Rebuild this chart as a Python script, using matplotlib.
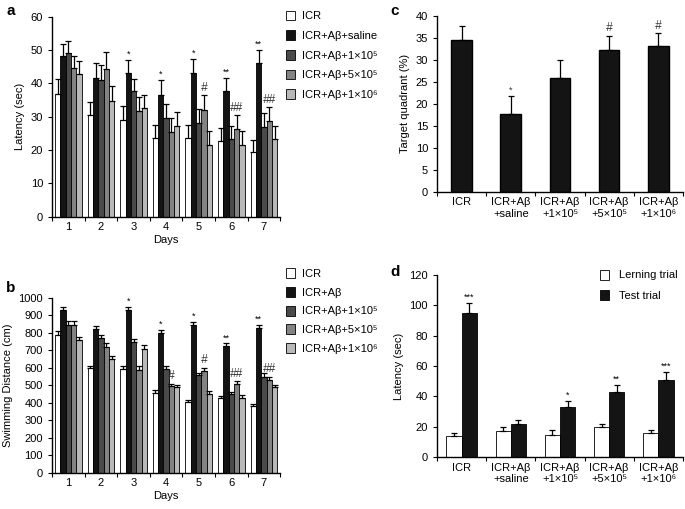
import numpy as np
import matplotlib
matplotlib.use("Agg")
import matplotlib.pyplot as plt
from matplotlib.patches import Patch

plt.rcParams['font.family'] = ['Liberation Sans', 'DejaVu Sans']
plt.rcParams['axes.linewidth'] = 1.0

# ---- data ----
days = [1, 2, 3, 4, 5, 6, 7]
groups_a = ['ICR', 'ICR+Aβ+saline', 'ICR+Aβ+1×10⁵', 'ICR+Aβ+5×10⁵', 'ICR+Aβ+1×10⁶']
groups_b = ['ICR', 'ICR+Aβ', 'ICR+Aβ+1×10⁵', 'ICR+Aβ+5×10⁵', 'ICR+Aβ+1×10⁶']
colors = ['white', '#141414', '#4a4a4a', '#838383', '#b8b8b8']

# panel a: latency (sec), one row per group, one value per day
lat_mean = [
    [36.8, 30.6, 29.1, 23.5, 23.6, 22.7, 19.4],
    [48.1, 41.6, 43.1, 36.6, 43.2, 37.6, 46.1],
    [49.1, 41.1, 37.6, 29.6, 28.1, 23.3, 26.9],
    [44.6, 44.3, 31.6, 25.3, 32.1, 26.4, 28.7],
    [42.9, 34.8, 32.6, 27.3, 21.6, 21.6, 23.4],
]
lat_err = [
    [4.5, 3.8, 4.0, 4.0, 3.9, 3.9, 3.7],
    [3.7, 4.5, 3.9, 4.4, 4.2, 4.1, 3.9],
    [3.7, 4.3, 3.8, 4.1, 4.2, 4.0, 4.1],
    [3.7, 5.0, 4.3, 4.3, 4.4, 4.1, 4.2],
    [3.9, 4.5, 4.0, 4.1, 4.2, 4.2, 3.9],
]
lat_star = {2: '*', 3: '*', 4: '*', 5: '**', 6: '**'}   # day index -> mark over saline
lat_hash = {4: '#', 5: '##', 6: '##'}                   # day index -> mark over 5x10^5

# panel b: swimming distance (cm)
dist_mean = [
    [790, 598, 595, 457, 403, 425, 382],
    [928, 822, 928, 797, 843, 722, 828],
    [845, 770, 745, 595, 557, 450, 550],
    [845, 720, 590, 497, 582, 505, 532],
    [760, 650, 710, 490, 452, 428, 490],
]
dist_err = [
    [20, 15, 15, 15, 12, 12, 12],
    [20, 15, 18, 18, 18, 18, 15],
    [25, 20, 20, 18, 12, 10, 22],
    [20, 20, 18, 12, 18, 18, 18],
    [15, 18, 22, 12, 15, 15, 12],
]
dist_star = {2: '*', 3: '*', 4: '*', 5: '**', 6: '**'}
dist_hash = {3: '#', 4: '#', 5: '##', 6: '##'}

# panel c: target quadrant (%)
cats = ['ICR', 'ICR+Aβ\n+saline', 'ICR+Aβ\n+1×10⁵', 'ICR+Aβ\n+5×10⁵', 'ICR+Aβ\n+1×10⁶']
quad_mean = [34.6, 17.7, 25.9, 32.2, 33.1]
quad_err = [3.0, 4.0, 4.0, 3.3, 2.9]
quad_mark = ['', '*', '', '#', '#']

# panel d: passive avoidance latency (sec)
learn_mean = [14.2, 17.3, 14.8, 19.5, 15.8]
learn_err = [1.8, 2.4, 2.8, 2.5, 2.0]
test_mean = [95.2, 21.6, 33.0, 42.7, 50.7]
test_err = [6.0, 3.0, 3.7, 5.0, 5.2]
test_mark = ['***', '', '*', '**', '***']

fig = plt.figure(figsize=(6.85, 5.09), dpi=100)
FS = 8


def style_axes(ax):
    for s in ['top', 'right']:
        ax.spines[s].set_visible(False)
    ax.tick_params(axis='y', direction='out', length=3, labelsize=FS)
    ax.tick_params(axis='x', which='major', direction='out', length=3, labelbottom=False)
    ax.tick_params(axis='x', which='minor', length=0, labelsize=FS, pad=4)


def grouped(ax, means, errs, stars, hashes, ymax, ystep, ylabel, off):
    w = 0.164
    x = np.arange(1, 8)
    for i, (m, e) in enumerate(zip(means, errs)):
        xs = x + (i - 2) * w
        ax.bar(xs, m, w, color=colors[i], edgecolor='black', linewidth=0.6, zorder=2)
        ax.errorbar(xs, m, yerr=[np.zeros(7), e], fmt='none', ecolor='black',
                    elinewidth=0.9, capsize=2.2, capthick=0.9, zorder=3)
    for d, s in stars.items():
        ax.text(x[d] - w, means[1][d] + errs[1][d] + off * 0.3, s, ha='center',
                va='bottom', fontsize=6.5)
    for d, s in hashes.items():
        ax.text(x[d] + w, means[3][d] + errs[3][d] + off * 0.4, s, ha='center',
                va='bottom', fontsize=8.5, style='italic', color='#333333')
    ax.set_xlim(0.5, 7.5)
    ax.set_ylim(0, ymax)
    ax.set_yticks(np.arange(0, ymax + 1, ystep))
    ax.set_xticks(np.arange(0.5, 8, 1))
    ax.set_xticks(x, minor=True)
    ax.set_xticklabels([str(d) for d in days], minor=True)
    ax.set_xlabel('Days', fontsize=FS, labelpad=2)
    ax.set_ylabel(ylabel, fontsize=FS, labelpad=4)
    style_axes(ax)


def legend_handles():
    return [Patch(facecolor=c, edgecolor='black', linewidth=0.6) for c in colors]


# ---- panel a ----
ax_a = fig.add_axes([0.076, 0.574, 0.333, 0.393])
grouped(ax_a, lat_mean, lat_err, lat_star, lat_hash, 60, 10, 'Latency (sec)', 1.0)
ax_a.legend(handles=legend_handles(), labels=groups_a, loc='upper left',
            bbox_to_anchor=(0.403, 0.999), bbox_transform=fig.transFigure,
            frameon=False, fontsize=FS, handlelength=0.8, handleheight=1.0,
            handletextpad=0.6, labelspacing=0.8)

# ---- panel b ----
ax_b = fig.add_axes([0.076, 0.071, 0.333, 0.344])
grouped(ax_b, dist_mean, dist_err, dist_star, dist_hash, 1000, 100, 'Swimming Distance (cm)', 20)
ax_b.legend(handles=legend_handles(), labels=groups_b, loc='upper left',
            bbox_to_anchor=(0.403, 0.493), bbox_transform=fig.transFigure,
            frameon=False, fontsize=FS, handlelength=0.8, handleheight=1.0,
            handletextpad=0.6, labelspacing=0.72)

# ---- panel c ----
ax_c = fig.add_axes([0.638, 0.623, 0.359, 0.346])
xc = np.arange(5)
ax_c.bar(xc, quad_mean, 0.42, color='#141414', edgecolor='black', zorder=2)
ax_c.errorbar(xc, quad_mean, yerr=[np.zeros(5), quad_err], fmt='none', ecolor='black',
              elinewidth=0.9, capsize=2.5, capthick=0.9, zorder=3)
for i, s in enumerate(quad_mark):
    if s:
        ax_c.text(xc[i], quad_mean[i] + quad_err[i] + 0.4, s, ha='center', va='bottom',
                  fontsize=6.5 if s == '*' else 8.5, style='italic' if s == '#' else 'normal',
                  color='#333333')
ax_c.set_xlim(-0.5, 4.5)
ax_c.set_ylim(0, 40)
ax_c.set_yticks(np.arange(0, 41, 5))
ax_c.set_xticks(np.arange(-0.5, 5, 1))
ax_c.set_xticks(xc, minor=True)
ax_c.set_xticklabels(cats, minor=True)
ax_c.set_ylabel('Target quadrant (%)', fontsize=FS, labelpad=4)
style_axes(ax_c)

# ---- panel d ----
ax_d = fig.add_axes([0.638, 0.102, 0.359, 0.358])
wd = 0.31
ax_d.bar(xc - wd / 2, learn_mean, wd, color='white', edgecolor='black', linewidth=0.6,
         zorder=2, label='Lerning trial')
ax_d.bar(xc + wd / 2, test_mean, wd, color='#141414', edgecolor='black', linewidth=0.6,
         zorder=2, label='Test trial')
ax_d.errorbar(xc - wd / 2, learn_mean, yerr=[np.zeros(5), learn_err], fmt='none',
              ecolor='black', elinewidth=0.9, capsize=2.2, capthick=0.9, zorder=3)
ax_d.errorbar(xc + wd / 2, test_mean, yerr=[np.zeros(5), test_err], fmt='none',
              ecolor='black', elinewidth=0.9, capsize=2.2, capthick=0.9, zorder=3)
for i, s in enumerate(test_mark):
    if s:
        ax_d.text(xc[i] + wd / 2, test_mean[i] + test_err[i] + 0.8, s, ha='center',
                  va='bottom', fontsize=6.5)
ax_d.set_xlim(-0.5, 4.5)
ax_d.set_ylim(0, 120)
ax_d.set_yticks(np.arange(0, 121, 20))
ax_d.set_xticks(np.arange(-0.5, 5, 1))
ax_d.set_xticks(xc, minor=True)
ax_d.set_xticklabels(cats, minor=True)
ax_d.set_ylabel('Latency (sec)', fontsize=FS, labelpad=4)
style_axes(ax_d)
ax_d.legend(loc='upper left', bbox_to_anchor=(0.862, 0.49), bbox_transform=fig.transFigure,
            frameon=False, fontsize=FS, handlelength=0.8, handleheight=1.0,
            handletextpad=0.9, labelspacing=0.9)

# panel letters
for lbl, (px, py) in {'a': (6, 4), 'b': (6, 281), 'c': (390, 4), 'd': (390, 265)}.items():
    fig.text(px / 685, 1 - py / 509, lbl, fontsize=11, fontweight='bold', va='top', ha='left')

fig.savefig('out.png', dpi=100)
